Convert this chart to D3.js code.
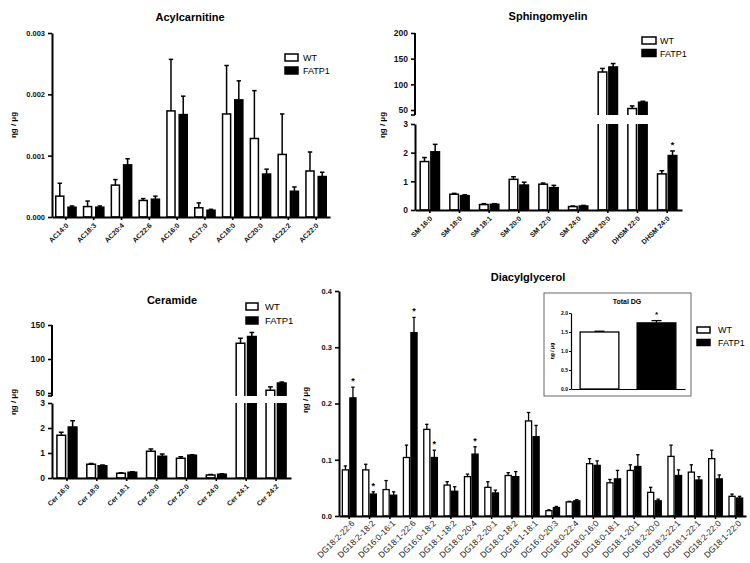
<!DOCTYPE html>
<html><head><meta charset="utf-8">
<script src="https://cdn.jsdelivr.net/npm/d3@7"></script>
<style>body{margin:0;background:#fff}svg{font-family:"Liberation Sans",Arial,sans-serif}</style>
</head><body>
<script>
// ---------- DATA ----------
const seriesNames = ["WT", "FATP1"];
const yLabel = "ηg / μg";

const acCats = ["AC14:0","AC18:3","AC20:4","AC22:6","AC16:0","AC17:0","AC18:0","AC20:0","AC22:2","AC22:0"];
const acWT = [0.00034,0.00017,0.00052,0.00027,0.00173,0.00015,0.00168,0.00128,0.00102,0.00075];
const acWTErr = [0.00021,0.00009,0.00009,0.00003,0.00084,0.00008,0.00079,0.00078,0.00066,0.00031];
const acFA = [0.00016,0.00016,0.00085,0.00029,0.00167,0.00011,0.00191,0.00070,0.00042,0.00066];
const acFAErr = [0.00002,0.00002,0.00010,0.00005,0.00030,0.000015,0.00031,0.00008,0.00007,0.00007];
const acTicks = [0,0.001,0.002,0.003];

const smCats = ["SM 16:0","SM 18:0","SM 18:1","SM 20:0","SM 22:0","SM 24:0","DHSM 20:0","DHSM 22:0","DHSM 24:0"];
const smWT = [1.69,0.55,0.19,1.07,0.90,0.12,124,53,1.26];
const smWTErr = [0.14,0.03,0.03,0.09,0.04,0.02,7,5,0.11];
const smFA = [2.03,0.50,0.20,0.87,0.78,0.14,134,65,1.90];
const smFAErr = [0.26,0.03,0.02,0.10,0.08,0.02,6.5,2,0.16];
const smSig = [8];
const smLowTicks = [0,1,2,3];
const smUpTicks = [50,100,150,200];

const cerCats = ["Cer 16:0","Cer 18:0","Cer 18:1","Cer 20:0","Cer 22:0","Cer 24:0","Cer 24:1","Cer 24:2"];
const cerWT = [1.71,0.55,0.19,1.07,0.79,0.12,123,54];
const cerWTErr = [0.12,0.03,0.02,0.09,0.06,0.02,7.5,5];
const cerFA = [2.04,0.49,0.23,0.87,0.91,0.15,133,64.6];
const cerFAErr = [0.25,0.03,0.02,0.09,0.02,0.02,6,1.5];
const cerLowTicks = [0,1,2,3];
const cerUpTicks = [50,100,150];

const dgCats = ["DG18:2-22:6","DG18:2-18:2","DG16:0-16:1","DG18:1-22:6","DG16:0-18:2","DG18:1-18:2","DG18:0-20:4","DG18:2-20:1","DG18:0-18:2","DG18:1-18:1","DG16:0-20:3","DG18:0-22:4","DG18:0-16:0","DG18:0-18:1","DG18:1-20:1","DG18:2-20:0","DG18:2-22:1","DG18:1-22:1","DG18:2-22:0","DG18:1-22:0"];
const dgWT = [0.082,0.082,0.047,0.104,0.154,0.055,0.070,0.051,0.072,0.169,0.0095,0.025,0.093,0.059,0.081,0.042,0.106,0.078,0.102,0.035];
const dgWTErr = [0.007,0.010,0.016,0.022,0.009,0.006,0.0045,0.010,0.005,0.015,0.0015,0.001,0.009,0.006,0.010,0.009,0.020,0.013,0.015,0.004];
const dgFA = [0.210,0.039,0.037,0.326,0.104,0.044,0.110,0.041,0.070,0.141,0.015,0.027,0.090,0.066,0.088,0.027,0.072,0.064,0.066,0.032];
const dgFAErr = [0.019,0.004,0.006,0.027,0.013,0.008,0.013,0.005,0.009,0.020,0.002,0.002,0.008,0.015,0.021,0.003,0.010,0.006,0.007,0.003];
const dgSig = [0,1,3,4,6];
const dgTicks = [0,0.1,0.2,0.3,0.4];

const totCats = ["WT","FATP1"];
const totVals = [1.50,1.74];
const totErr = [0.02,0.06];
const totSig = [1];
const totTicks = [0,0.5,1.0,1.5,2.0];

// ---------- DRAW ----------
const svg = d3.select("body").append("svg").attr("width",750).attr("height",563);

function styleAxis(a, sw){
  a.selectAll("path.domain").attr("stroke","#000").attr("stroke-width",sw);
  a.selectAll(".tick line").attr("stroke","#000").attr("stroke-width",sw*0.8);
}

function drawPanel(p){
  const g = svg.append("g");
  const x = d3.scaleBand().domain(p.cats).range([p.left,p.right]);
  const step = x.bandwidth();
  const lo = d3.scaleLinear().domain(p.lowDomain).range([p.base,p.lowTop]);
  const up = p.upDomain ? d3.scaleLinear().domain(p.upDomain).range(p.upRange) : null;
  const lowMax = p.lowDomain[1];
  const yv = v => (up && v>lowMax) ? up(v) : lo(v);
  const bw = step*p.bwFrac;
  const series = [
    {vals:p.wt, err:p.wtErr, fill:"#fff", off:-p.offFrac, sig:[]},
    {vals:p.fa, err:p.faErr, fill:"#000", off:p.offFrac, sig:p.sig||[]}
  ];
  series.forEach(s=>{
    p.cats.forEach((c,i)=>{
      const v = s.vals[i];
      const cx = x(c)+step/2+s.off*step;
      const e = v + s.err[i];
      const cap = Math.max(3, bw*0.55);
      g.append("line").attr("x1",cx).attr("x2",cx).attr("y1",yv(v)).attr("y2",yv(e))
        .attr("stroke","#000").attr("stroke-width",p.esw);
      g.append("line").attr("x1",cx-cap/2).attr("x2",cx+cap/2).attr("y1",yv(e)).attr("y2",yv(e))
        .attr("stroke","#000").attr("stroke-width",p.esw);
      const x0 = cx-bw/2, x1 = cx+bw/2;
      if (up && v>lowMax) {
        // lower piece: open top
        const t1 = lo(lowMax), b1 = lo(0);
        g.append("rect").attr("x",x0).attr("y",t1).attr("width",bw).attr("height",b1-t1)
          .attr("fill",s.fill).attr("stroke","none");
        g.append("path").attr("d",`M${x0},${t1}V${b1}H${x1}V${t1}`)
          .attr("fill","none").attr("stroke","#000").attr("stroke-width",p.bsw);
        // upper piece: open bottom
        const t2 = up(v), b2 = p.upBottom;
        g.append("rect").attr("x",x0).attr("y",t2).attr("width",bw).attr("height",b2-t2)
          .attr("fill",s.fill).attr("stroke","none");
        g.append("path").attr("d",`M${x0},${b2}V${t2}H${x1}V${b2}`)
          .attr("fill","none").attr("stroke","#000").attr("stroke-width",p.bsw);
      } else {
        g.append("rect").attr("x",x0).attr("y",lo(v)).attr("width",bw).attr("height",Math.max(0,lo(0)-lo(v)))
          .attr("fill",s.fill).attr("stroke","#000").attr("stroke-width",p.bsw);
      }
      if (s.sig.includes(i)) {
        g.append("text").attr("x",cx).attr("y",yv(e)-3).attr("text-anchor","middle")
          .attr("font-size",p.starSize||9).attr("font-weight","bold").text("*");
      }
    });
  });
  // y axis lower
  const ya = g.append("g").attr("transform",`translate(${p.left},0)`)
    .call(d3.axisLeft(lo).tickValues(p.lowTicks).tickSize(4).tickSizeOuter(0).tickFormat(p.fmt));
  styleAxis(ya, p.asw);
  ya.selectAll("text").attr("font-size",p.tickFont).attr("font-weight","bold").attr("fill","#111")
    .attr("font-family",'"Liberation Sans",Arial,sans-serif');
  if (up) {
    const yu = g.append("g").attr("transform",`translate(${p.left},0)`)
      .call(d3.axisLeft(up).tickValues(p.upTicks).tickSize(4).tickSizeOuter(0));
    yu.select("path.domain").remove();
    styleAxis(yu, p.asw);
    yu.selectAll("text").attr("font-size",p.tickFont).attr("font-weight","bold").attr("fill","#111")
      .attr("font-family",'"Liberation Sans",Arial,sans-serif');
    g.append("line").attr("x1",p.left).attr("x2",p.left).attr("y1",p.upBottom).attr("y2",up(p.upDomain[1]))
      .attr("stroke","#000").attr("stroke-width",p.asw);
    g.append("line").attr("x1",p.left-4).attr("x2",p.left).attr("y1",p.upBottom).attr("y2",p.upBottom)
      .attr("stroke","#000").attr("stroke-width",p.asw*0.8);
  }
  // x axis
  const xa = g.append("g").attr("transform",`translate(0,${p.base})`)
    .call(d3.axisBottom(x).tickSize(3).tickSizeOuter(0));
  styleAxis(xa, p.asw);
  xa.selectAll("text").attr("y",null).attr("dy",null)
    .attr("transform",`translate(${p.lx},${p.ly}) rotate(-45)`).attr("text-anchor","end")
    .attr("font-size",p.catFont).attr("font-weight",p.catWeight).attr("fill",p.catColor)
    .attr("font-family",'"Liberation Sans",Arial,sans-serif');
  // title
  svg.append("text").attr("x",p.title[1]).attr("y",p.title[2]).attr("text-anchor","middle")
    .attr("font-size",11).attr("font-weight","bold").text(p.title[0]);
  // y label
  svg.append("text").attr("transform",`translate(${p.yl[0]},${p.yl[1]}) rotate(-90)`)
    .attr("text-anchor","middle").attr("font-size",8).attr("font-weight","bold").text(yLabel);
  // legend
  if (p.legend) {
    const [lx,ly,bwid,bh,gap,fs,tx] = p.legend;
    seriesNames.forEach((n,i)=>{
      svg.append("rect").attr("x",lx).attr("y",ly+i*gap).attr("width",bwid).attr("height",bh)
        .attr("fill",i===0?"#fff":"#000").attr("stroke","#000").attr("stroke-width",1.5);
      svg.append("text").attr("x",tx).attr("y",ly+i*gap+bh).attr("font-size",fs).text(n);
    });
  }
}

drawPanel({cats:acCats, wt:acWT, wtErr:acWTErr, fa:acFA, faErr:acFAErr, sig:[],
  left:52, right:330, base:217, lowDomain:[0,0.003], lowTop:33, lowTicks:acTicks, fmt:d3.format(".3f"),
  bwFrac:0.29, offFrac:0.22, bsw:1.5, esw:1.5, asw:2, tickFont:7.5,
  catFont:7, catWeight:"bold", catColor:"#111", lx:3, ly:9,
  title:["Acylcarnitine",190,21], yl:[16,125], legend:[285,54,13,7,13,9,303]});

drawPanel({cats:smCats, wt:smWT, wtErr:smWTErr, fa:smFA, faErr:smFAErr, sig:smSig,
  left:415, right:682, base:210, lowDomain:[0,3], lowTop:124, lowTicks:smLowTicks, fmt:d3.format("d"),
  upDomain:[50,200], upRange:[110,33], upBottom:115, upTicks:smUpTicks,
  bwFrac:0.29, offFrac:0.18, bsw:1.5, esw:1.5, asw:2, tickFont:8.5,
  catFont:7, catWeight:"bold", catColor:"#111", lx:3, ly:9,
  title:["Sphingomyelin",548,20], yl:[385,125], legend:[642,37,14,7,12.5,9,660]});

drawPanel({cats:cerCats, wt:cerWT, wtErr:cerWTErr, fa:cerFA, faErr:cerFAErr, sig:[],
  left:52, right:291, base:478, lowDomain:[0,3], lowTop:403, lowTicks:cerLowTicks, fmt:d3.format("d"),
  upDomain:[50,150], upRange:[393,325], upBottom:396, upTicks:cerUpTicks,
  bwFrac:0.29, offFrac:0.19, bsw:1.5, esw:1.5, asw:2, tickFont:8.5,
  catFont:7, catWeight:"bold", catColor:"#111", lx:3, ly:9,
  title:["Ceramide",172,304], yl:[16,402], legend:[246,303,12,7,14,9.5,265]});

drawPanel({cats:dgCats, wt:dgWT, wtErr:dgWTErr, fa:dgFA, faErr:dgFAErr, sig:dgSig,
  left:339, right:746, base:516, lowDomain:[0,0.4], lowTop:291, lowTicks:dgTicks, fmt:d3.format(".1f"),
  bwFrac:0.3, offFrac:0.185, bsw:1.3, esw:1.3, asw:2, tickFont:7.5,
  catFont:8.5, catWeight:"normal", catColor:"#222", lx:6, ly:8,
  title:["Diacylglycerol",528,281], yl:[308,400], legend:[697,327,13,6,12.5,9,718]});

// ---------- Inset: Total DG ----------
(function(){
  const g = svg.append("g");
  g.append("rect").attr("x",544).attr("y",293).attr("width",147).attr("height",103)
    .attr("fill","#fff").attr("stroke","#666").attr("stroke-width",1);
  const x = d3.scaleBand().domain(totCats).range([571,685]);
  const y = d3.scaleLinear().domain([0,2]).range([389,313]);
  const bw = x.bandwidth()*0.68;
  totCats.forEach((c,i)=>{
    const cx = x(c)+x.bandwidth()/2;
    const e = totVals[i]+totErr[i];
    g.append("line").attr("x1",cx).attr("x2",cx).attr("y1",y(totVals[i])).attr("y2",y(e)).attr("stroke","#000").attr("stroke-width",1.3);
    g.append("line").attr("x1",cx-5).attr("x2",cx+5).attr("y1",y(e)).attr("y2",y(e)).attr("stroke","#000").attr("stroke-width",1.3);
    g.append("rect").attr("x",cx-bw/2).attr("y",y(totVals[i])).attr("width",bw).attr("height",y(0)-y(totVals[i]))
      .attr("fill",i===0?"#fff":"#000").attr("stroke","#000").attr("stroke-width",1.3);
    if (totSig.includes(i)) g.append("text").attr("x",cx).attr("y",y(e)-4).attr("text-anchor","middle")
      .attr("font-size",8).attr("font-weight","bold").text("*");
  });
  const ya = g.append("g").attr("transform","translate(571,0)")
    .call(d3.axisLeft(y).tickValues(totTicks).tickSize(2).tickSizeOuter(0).tickFormat(d3.format(".1f")));
  ya.selectAll("path.domain").attr("stroke","#000").attr("stroke-width",1.2);
  ya.selectAll(".tick line").attr("stroke","#000");
  ya.selectAll("text").attr("font-size",5).attr("font-weight","bold").attr("x",-3)
    .attr("font-family",'"Liberation Sans",Arial,sans-serif');
  const xa = g.append("g").attr("transform","translate(0,389)").call(d3.axisBottom(x).tickSize(0).tickSizeOuter(0));
  xa.selectAll("text").remove();
  xa.selectAll("path.domain").attr("stroke","#000").attr("stroke-width",1.2);
  g.append("text").attr("x",627).attr("y",304).attr("text-anchor","middle").attr("font-size",7)
    .attr("font-weight","bold").text("Total DG");
  g.append("text").attr("transform","translate(554,351) rotate(-90)").attr("text-anchor","middle")
    .attr("font-size",5).attr("font-weight","bold").text(yLabel);
})();
</script>
</body></html>
